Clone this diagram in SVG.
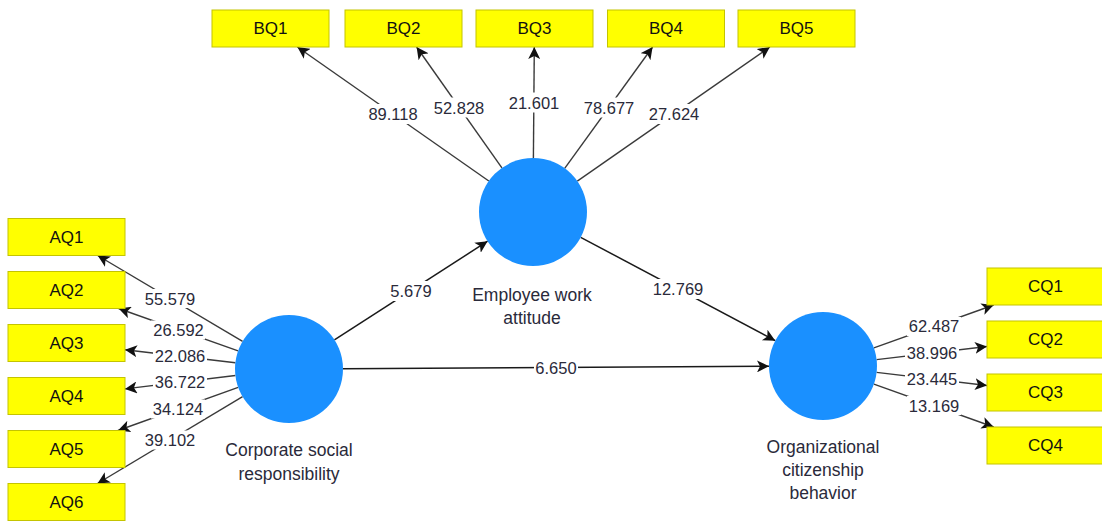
<svg xmlns="http://www.w3.org/2000/svg" width="1102" height="521" viewBox="0 0 1102 521">
<style>
.box{fill:#ffff00;stroke:#c4c400;stroke-width:1}
.lv{fill:#1a90ff}
.ln{stroke:#3a3a3a;stroke-width:1.4;fill:none;marker-end:url(#arr)}
.pl{stroke:#1a1a1a;stroke-width:1.5;fill:none;marker-end:url(#arr)}
.bg{fill:#ffffff}
.num{font-family:"Liberation Sans",Arial,sans-serif;font-size:16.5px;fill:#2a2a3a;text-anchor:middle;dominant-baseline:central}
.bt{font-family:"Liberation Sans",Arial,sans-serif;font-size:17px;fill:#111;text-anchor:middle;dominant-baseline:central}
.lt{font-family:"Liberation Sans",Arial,sans-serif;font-size:17.5px;fill:#2a2a3a;text-anchor:middle;dominant-baseline:central}
</style>
<defs>
<marker id="arr" markerUnits="userSpaceOnUse" markerWidth="14" markerHeight="12" refX="12" refY="6" orient="auto">
<path d="M0,0 L12,6 L0,12 L3,6 z" fill="#111"/>
</marker>
</defs>
<rect width="1102" height="521" fill="#ffffff"/>

<g id="connectors">
<line class="ln" x1="488.8" y1="181" x2="297.4" y2="47"/>
<line class="ln" x1="501.9" y1="167.9" x2="416.6" y2="47"/>
<line class="ln" x1="533.4" y1="158" x2="534.3" y2="47"/>
<line class="ln" x1="564.7" y1="168.3" x2="652.6" y2="47"/>
<line class="ln" x1="577.3" y1="181.1" x2="769.9" y2="47"/>
<line class="ln" x1="242.6" y1="341.4" x2="97.7" y2="255.5"/>
<line class="ln" x1="238.1" y1="350.9" x2="118.6" y2="308.5"/>
<line class="ln" x1="235.4" y1="362.7" x2="125" y2="349.8"/>
<line class="ln" x1="235.4" y1="375.5" x2="125" y2="388.9"/>
<line class="ln" x1="238.2" y1="387.3" x2="118" y2="430.5"/>
<line class="ln" x1="242.6" y1="396.7" x2="97.5" y2="483.5"/>
<line class="ln" x1="873.9" y1="347.8" x2="993.7" y2="305"/>
<line class="ln" x1="876.6" y1="359.6" x2="987" y2="346.5"/>
<line class="ln" x1="876.6" y1="372.4" x2="987" y2="385.5"/>
<line class="ln" x1="873.9" y1="384.2" x2="993.7" y2="427"/>
<line class="pl" x1="334.4" y1="339.8" x2="487.6" y2="241.2"/>
<line class="pl" x1="580.7" y1="237.3" x2="775.3" y2="340.7"/>
<line class="pl" x1="343" y1="368.7" x2="769" y2="366.3"/>
<g id="loading-labels">
<rect class="bg" x="366" y="104" width="54" height="20"/><text class="num" x="393" y="114">89.118</text>
<rect class="bg" x="432" y="97.5" width="54" height="20"/><text class="num" x="459" y="107.5">52.828</text>
<rect class="bg" x="507" y="92.5" width="54" height="20"/><text class="num" x="534" y="102.5">21.601</text>
<rect class="bg" x="582" y="97.5" width="54" height="20"/><text class="num" x="609" y="107.5">78.677</text>
<rect class="bg" x="647" y="104" width="54" height="20"/><text class="num" x="674" y="114">27.624</text>
<rect class="bg" x="143" y="289" width="54" height="19"/><text class="num" x="170" y="298.5">55.579</text>
<rect class="bg" x="151" y="320.5" width="54" height="19"/><text class="num" x="178.5" y="329.8">26.592</text>
<rect class="bg" x="153" y="347" width="54" height="19"/><text class="num" x="180" y="356.3">22.086</text>
<rect class="bg" x="153" y="373" width="54" height="19"/><text class="num" x="180" y="382.3">36.722</text>
<rect class="bg" x="151" y="399.5" width="54" height="19"/><text class="num" x="178" y="409">34.124</text>
<rect class="bg" x="143" y="430.5" width="54" height="19"/><text class="num" x="170" y="440">39.102</text>
<rect class="bg" x="907" y="317" width="54" height="19"/><text class="num" x="934" y="326.4">62.487</text>
<rect class="bg" x="905" y="343.5" width="54" height="19"/><text class="num" x="932" y="353">38.996</text>
<rect class="bg" x="905" y="369.5" width="54" height="19"/><text class="num" x="932" y="379">23.445</text>
<rect class="bg" x="907" y="396" width="54" height="19"/><text class="num" x="934" y="405.6">13.169</text>
</g>
<g id="path-labels">
<rect class="bg" x="389" y="281" width="44" height="20"/><text class="num" x="411" y="291">5.679</text>
<rect class="bg" x="651" y="279" width="54" height="20"/><text class="num" x="678" y="289">12.769</text>
<rect class="bg" x="534" y="357.5" width="44" height="20"/><text class="num" x="556" y="367.5">6.650</text>
</g>
</g>

<g id="BQ1"><rect class="box" x="212" y="10" width="117" height="37"/><text class="bt" x="270.5" y="28.5">BQ1</text></g>
<g id="BQ2"><rect class="box" x="345" y="10" width="117" height="37"/><text class="bt" x="403.5" y="28.5">BQ2</text></g>
<g id="BQ3"><rect class="box" x="476" y="10" width="117" height="37"/><text class="bt" x="534.5" y="28.5">BQ3</text></g>
<g id="BQ4"><rect class="box" x="607.5" y="10" width="117" height="37"/><text class="bt" x="666" y="28.5">BQ4</text></g>
<g id="BQ5"><rect class="box" x="738" y="10" width="117" height="37"/><text class="bt" x="796.5" y="28.5">BQ5</text></g>

<g id="AQ1"><rect class="box" x="8" y="218.5" width="117" height="37"/><text class="bt" x="66.5" y="237">AQ1</text></g>
<g id="AQ2"><rect class="box" x="8" y="271.5" width="117" height="37"/><text class="bt" x="66.5" y="290">AQ2</text></g>
<g id="AQ3"><rect class="box" x="8" y="324.5" width="117" height="37"/><text class="bt" x="66.5" y="343">AQ3</text></g>
<g id="AQ4"><rect class="box" x="8" y="377.5" width="117" height="37"/><text class="bt" x="66.5" y="396">AQ4</text></g>
<g id="AQ5"><rect class="box" x="8" y="430.5" width="117" height="37"/><text class="bt" x="66.5" y="449">AQ5</text></g>
<g id="AQ6"><rect class="box" x="8" y="483.5" width="117" height="37"/><text class="bt" x="66.5" y="502">AQ6</text></g>

<g id="CQ1"><rect class="box" x="987" y="268" width="117" height="37"/><text class="bt" x="1045.5" y="286.5">CQ1</text></g>
<g id="CQ2"><rect class="box" x="987" y="321" width="117" height="37"/><text class="bt" x="1045.5" y="339.5">CQ2</text></g>
<g id="CQ3"><rect class="box" x="987" y="374" width="117" height="37"/><text class="bt" x="1045.5" y="392.5">CQ3</text></g>
<g id="CQ4"><rect class="box" x="987" y="427" width="117" height="37"/><text class="bt" x="1045.5" y="445.5">CQ4</text></g>

<g id="employee-work-attitude"><circle class="lv" cx="533" cy="212" r="54"/><text class="lt" x="532" y="295">Employee work</text><text class="lt" x="532" y="318">attitude</text></g>
<g id="corporate-social-responsibility"><circle class="lv" cx="289" cy="369" r="54"/><text class="lt" x="289" y="450">Corporate social</text><text class="lt" x="289" y="474">responsibility</text></g>
<g id="organizational-citizenship-behavior"><circle class="lv" cx="823" cy="366" r="54"/><text class="lt" x="823" y="447">Organizational</text><text class="lt" x="823" y="470">citizenship</text><text class="lt" x="823" y="493">behavior</text></g>
</svg>
